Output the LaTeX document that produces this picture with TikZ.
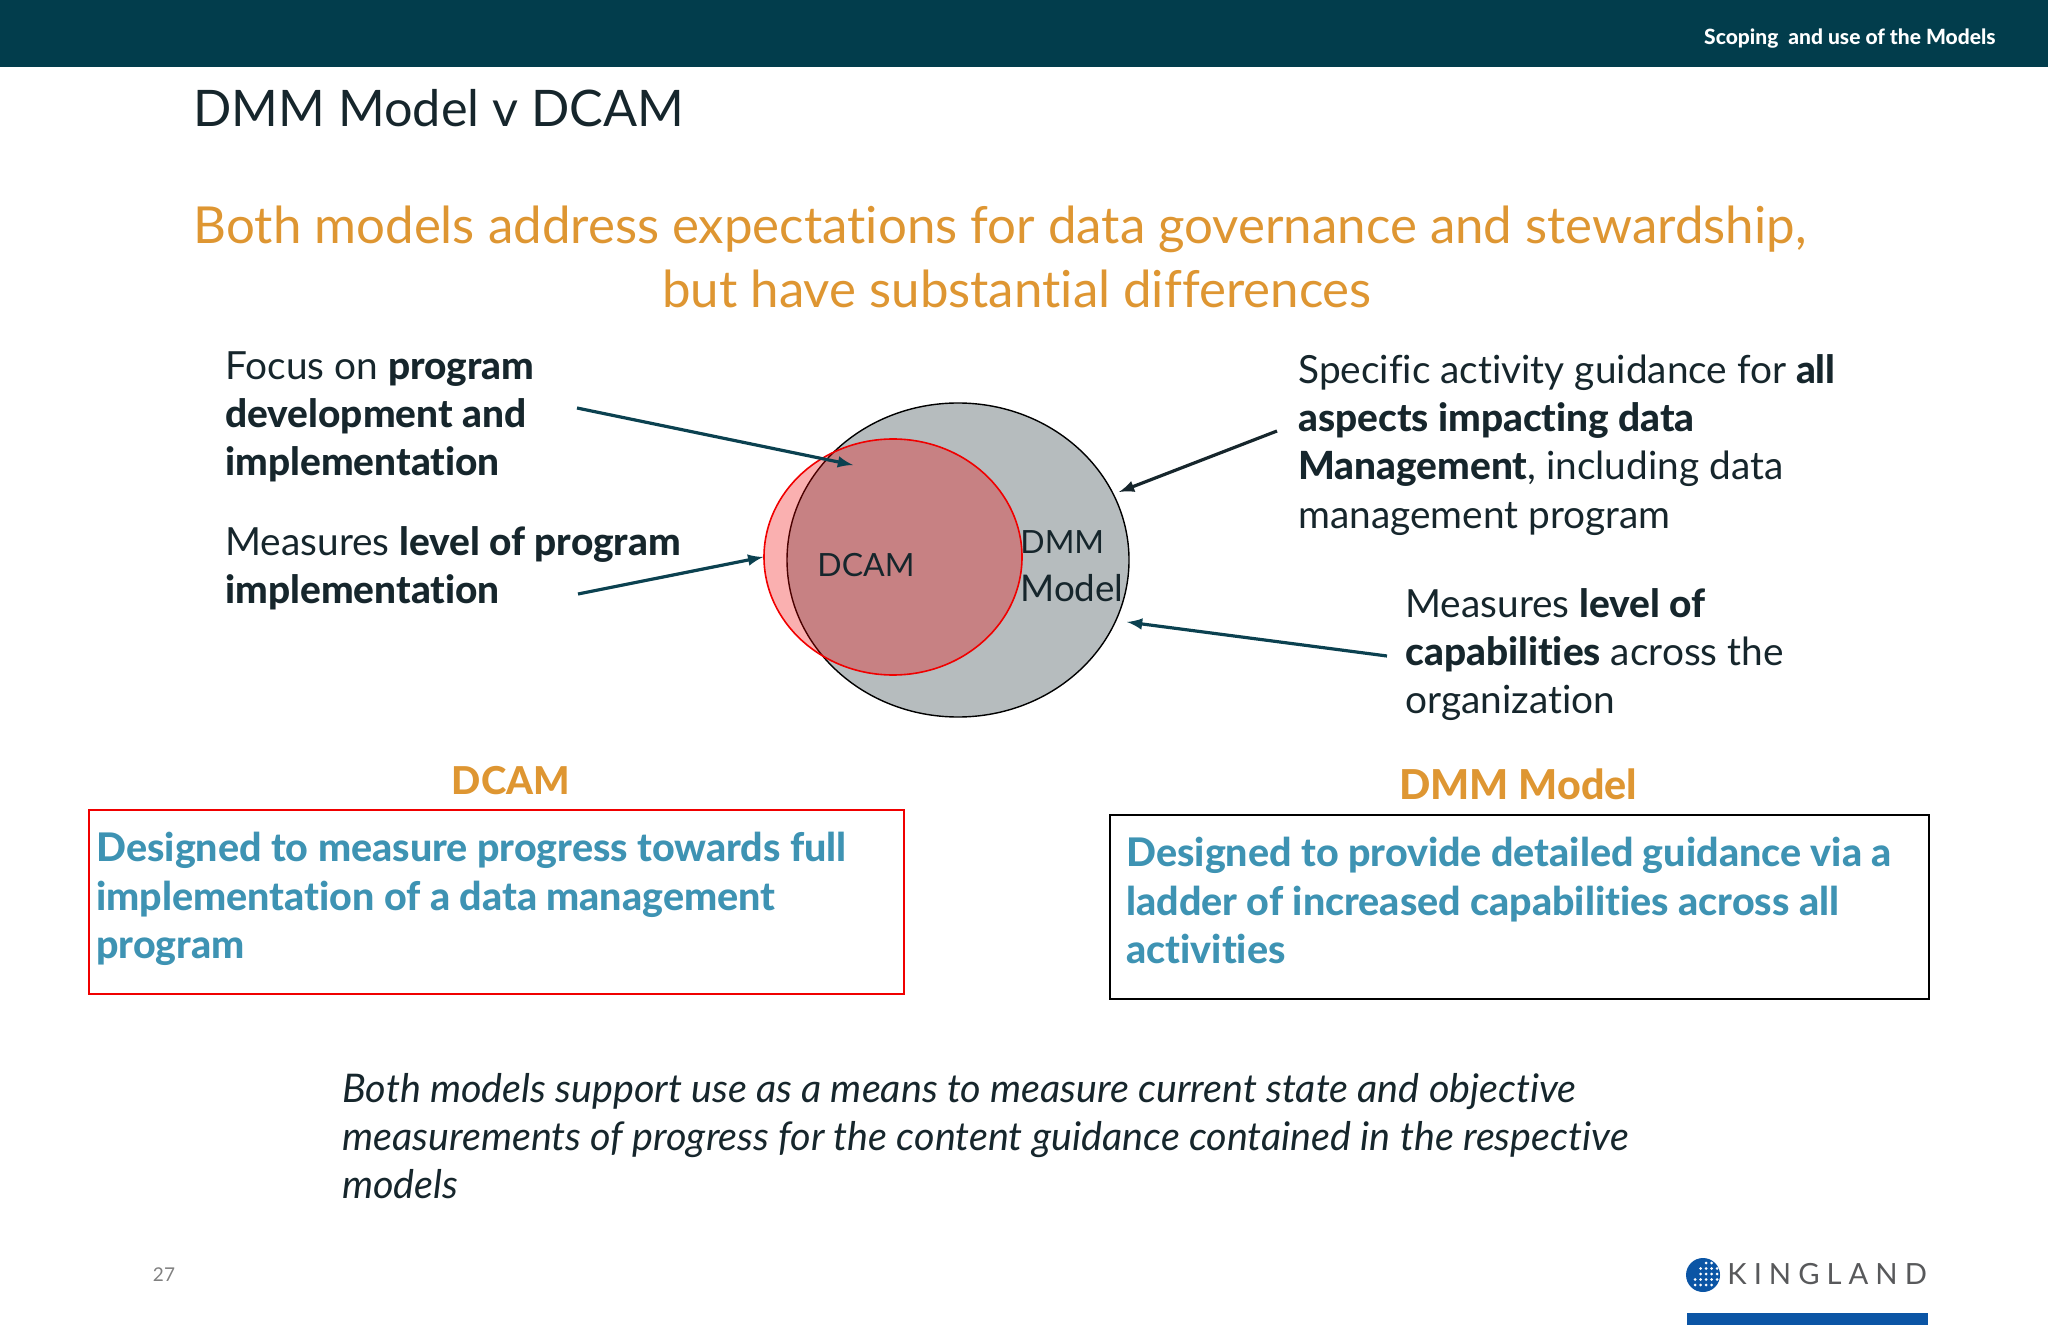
\documentclass[tikz,border=0pt]{standalone}
\usepackage{fontspec}
\setmainfont{Lato}[Ligatures=NoCommon,BoldFont={Lato Heavy}]
\usetikzlibrary{positioning,calc}
\usetikzlibrary{shapes.geometric}
\definecolor{headerteal}{HTML}{023D4C}
\definecolor{darkink}{HTML}{16262C}
\definecolor{arrowteal}{HTML}{0B4150}
\definecolor{slideorange}{HTML}{DE9632}
\definecolor{boxblue}{HTML}{3E93B3}
\definecolor{ovalgrey}{HTML}{B6BCBE}
\definecolor{ovalred}{HTML}{F00000}
\definecolor{logoblue}{HTML}{0B55A5}
\definecolor{logogrey}{HTML}{58595B}

\begin{document}
\begin{tikzpicture}[
    x=0.5pt,y=-0.5pt,
    bodytext/.style={anchor=north west,inner sep=0pt,align=left,text=darkink,font=\fontsize{19.4}{24.15}\selectfont},
    bluetext/.style={anchor=north west,inner sep=0pt,align=left,text=boxblue,font=\fontsize{19.7}{24.15}\selectfont\bfseries},
    headtext/.style={inner sep=0pt,text=slideorange,font=\fontsize{19.2}{24}\selectfont\bfseries},
    ovaltext/.style={inner sep=0pt,text=darkink,font=\fontsize{16}{24.15}\selectfont},
    subtext/.style={inner sep=0pt,text=slideorange,font=\fontsize{25.5}{32}\selectfont},
    pointer/.style={-latex,line width=1.6pt,arrowteal},
    ]

    \useasboundingbox (0,0) rectangle (2048,1325);
    \fill[headerteal] (0,0) rectangle (2048,67);
    \node[anchor=east,inner sep=0pt,text=white,font=\fontsize{10.5}{12}\selectfont\bfseries] (section) at (1996,39) {Scoping\ \ and use of the Models};
    \node[anchor=west,inner sep=0pt,text=darkink,font=\fontsize{25.2}{32}\selectfont] (title) at (193,108) {DMM Model v DCAM};
    \node[subtext] (subtitle) at (1000,229) {Both models address expectations for data governance and stewardship,};
    \node[subtext] (subtitlerest) at (1017,289) {but have substantial differences};

    \node[ellipse,draw=black,fill=ovalgrey,line width=0.7pt,minimum width=171pt,minimum height=157pt,inner sep=0pt] (dmmoval) at (958,560) {};
    \node[ellipse,draw=ovalred,fill=ovalred,fill opacity=0.31,line width=0.8pt,minimum width=129pt,minimum height=118pt,inner sep=0pt] (dcamoval) at (893,557) {};
    \node[ovaltext] (dcamtext) at (866,565) {DCAM};
    \node[ovaltext,anchor=west,align=left] (dmmtext) at (1020,566) {DMM\\{\fontsize{18.4}{24.15}\selectfont Model}};

    \node[bodytext] (focus) at (225,351) {Focus on \textbf{program}\\\textbf{development and}\\\textbf{implementation}};
    \node[bodytext] (measures) at (225,526) {Measures \textbf{level of program}\\\textbf{implementation}};
    \node[bodytext] (activity) at (1298,354) {Specific activity guidance for \textbf{all}\\\textbf{aspects impacting data}\\\textbf{Management}, including data\\management program};
    \node[bodytext] (capability) at (1405,588) {Measures \textbf{level of}\\\textbf{capabilities} across the\\organization};

    \coordinate (focusend) at (577,408);
    \coordinate (focustip) at (853,465);
    \coordinate (measuresend) at (578,594);
    \coordinate (activityend) at (1277,431);
    \coordinate (activitytip) at (1119,492);
    \coordinate (capabilityend) at (1387,656);
    \coordinate (capabilitytip) at (1127,622);
    \draw[pointer] (focusend) -- (focustip);
    \draw[pointer] (measuresend) -- (dcamoval.west);
    \draw[pointer,darkink] (activityend) -- (activitytip);
    \draw[pointer] (capabilityend) -- (capabilitytip);

    \node[headtext] (dcamhead) at (511,781) {DCAM};
    \node[headtext,font=\fontsize{20.6}{24}\selectfont\bfseries] (dmmhead) at (1518,784) {DMM Model};
    \node[draw=ovalred,line width=0.6pt,minimum width=407.5pt,minimum height=92pt,inner sep=0pt] (dcambox) at (496.5,902) {};
    \node[draw=black,line width=0.6pt,minimum width=409.5pt,minimum height=92pt,inner sep=0pt] (dmmbox) at (1519.5,907) {};
    \node[bluetext] (dcamdesc) at (96,832) {Designed to measure progress towards full\\implementation of a data management\\program};
    \node[bluetext] (dmmdesc) at (1126,837) {Designed to provide detailed guidance via a\\ladder of increased capabilities across all\\activities};

    \node[anchor=north west,inner sep=0pt,align=left,text=darkink,font=\fontsize{19.75}{24}\selectfont\itshape] (both) at (342,1073) {Both models support use as a means to measure current state and objective\\measurements of progress for the content guidance contained in the respective\\models};

    \node[anchor=center,inner sep=0pt,text=gray,font=\fontsize{9.5}{12}\selectfont] (pagenum) at (164,1275) {27};
    \node[circle,fill=logoblue,minimum size=17pt,inner sep=0pt] (globe) at (1703,1275) {};
    \foreach \row/\first/\last in {0/2/3,1/1/4,2/1/4,3/0/4,4/0/3}
      \foreach \col in {\first,...,\last}
        \fill[white] ($(globe)+(-8+\col*5.5,-12+\row*5.5)$) circle (1.5);
    \node[anchor=west,inner sep=0pt,text=logogrey,font=\fontsize{14.6}{16}\selectfont\addfontfeature{LetterSpace=24}] (logotext) at (1727,1274) {KINGLAND};
    \fill[logoblue] (1687,1313) rectangle (1928,1325);

  \end{tikzpicture}
\end{document}
